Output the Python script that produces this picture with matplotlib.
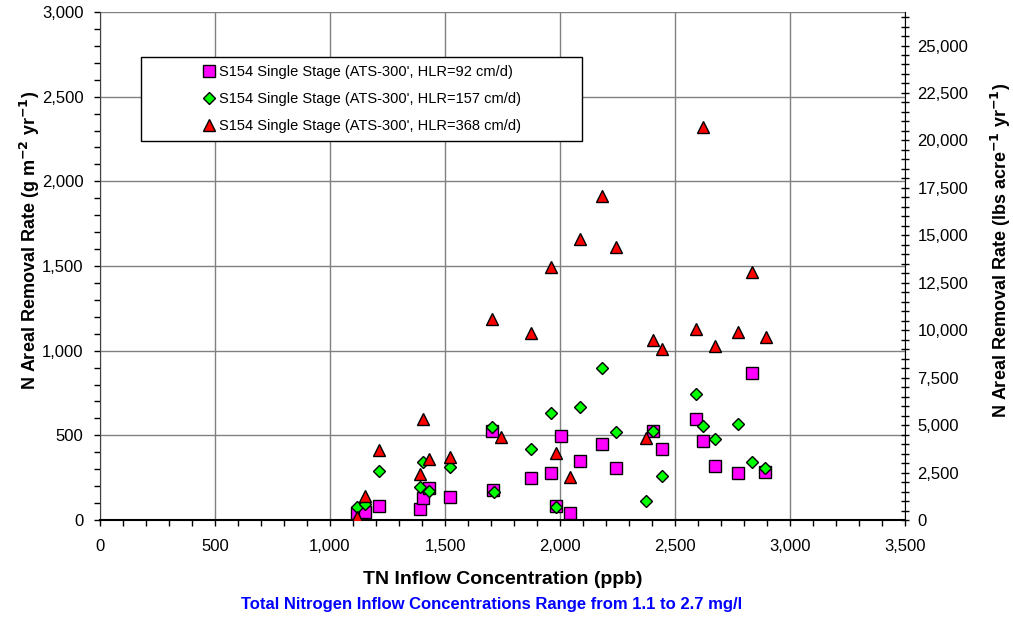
import numpy as np
import matplotlib
matplotlib.use("Agg")
import matplotlib.pyplot as plt
from matplotlib.patches import Rectangle
from matplotlib.ticker import MultipleLocator, FuncFormatter

plt.rcParams['font.family'] = ['Liberation Sans', 'DejaVu Sans']

# HLR = 92 cm/d (squares)
x_92 = [1116, 1152, 1213, 1391, 1403, 1432, 1522, 1703, 1710, 1872, 1961, 1983,
        2003, 2043, 2087, 2181, 2242, 2403, 2442, 2591, 2623, 2672, 2772, 2833, 2893]
y_92 = [40, 49, 83, 65, 128, 187, 138, 526, 177, 250, 276, 83,
        496, 43, 350, 449, 309, 527, 419, 595, 466, 321, 276, 866, 285]

# HLR = 157 cm/d (diamonds)
x_157 = [1116, 1152, 1213, 1391, 1403, 1432, 1522, 1703, 1713, 1872, 1961, 1983,
         2087, 2184, 2243, 2374, 2403, 2442, 2591, 2623, 2672, 2772, 2833, 2893]
y_157 = [75, 94, 291, 197, 341, 173, 315, 551, 167, 419, 630, 79,
         666, 896, 518, 114, 527, 260, 742, 555, 478, 569, 344, 305]

# HLR = 368 cm/d (triangles)
x_368 = [1116, 1152, 1213, 1391, 1403, 1432, 1522, 1703, 1742, 1872, 1962, 1983,
         2043, 2087, 2184, 2242, 2374, 2403, 2442, 2591, 2623, 2672, 2772, 2833, 2894]
y_368 = [16, 142, 413, 272, 596, 358, 370, 1189, 492, 1102, 1496, 394,
         252, 1658, 1913, 1615, 482, 1063, 1008, 1126, 2323, 1028, 1112, 1463, 1079]

labels = ["S154 Single Stage (ATS-300', HLR=92 cm/d)",
          "S154 Single Stage (ATS-300', HLR=157 cm/d)",
          "S154 Single Stage (ATS-300', HLR=368 cm/d)"]

G_TO_LBS = 8.922  # g m-2 yr-1 -> lbs acre-1 yr-1

fig = plt.figure(figsize=(10.13, 6.24), dpi=100)
ax = fig.add_axes([100 / 1013, 1 - 520 / 624, 805 / 1013, 508 / 624])

ax.plot(x_92, y_92, ls='none', marker='s', ms=8.5, mfc='#FF00FF', mec='black',
        mew=1.0, label=labels[0], zorder=3)
ax.plot(x_157, y_157, ls='none', marker='D', ms=6.5, mfc='#00FF00', mec='black',
        mew=1.0, label=labels[1], zorder=4)
ax.plot(x_368, y_368, ls='none', marker='^', ms=9, mfc='#FF0000', mec='black',
        mew=1.0, label=labels[2], zorder=5)

ax.set_xlim(0, 3500)
ax.set_ylim(0, 3000)
ax.xaxis.set_major_locator(MultipleLocator(500))
ax.xaxis.set_minor_locator(MultipleLocator(100))
ax.yaxis.set_major_locator(MultipleLocator(500))
ax.yaxis.set_minor_locator(MultipleLocator(100))
comma = FuncFormatter(lambda v, p: f"{v:,.0f}")
ax.xaxis.set_major_formatter(comma)
ax.yaxis.set_major_formatter(comma)
ax.grid(True, which='major', color='#808080', lw=1.0)
ax.set_axisbelow(True)
ax.tick_params(which='both', direction='out', length=4, width=1, labelsize=12,
               color='black')
ax.tick_params(axis='x', pad=10)
ax.tick_params(axis='y', pad=8)
for s in ['top', 'right']:
    ax.spines[s].set_visible(False)
ax.spines['left'].set_color('#404040')
ax.spines['bottom'].set_color('black')
ax.spines['bottom'].set_linewidth(1.5)

ax.set_xlabel("TN Inflow Concentration (ppb)", fontsize=14, fontweight='bold',
              labelpad=12)
ax.set_ylabel(r"N Areal Removal Rate (g m$^{\mathbf{-2}}$ yr$^{\mathbf{-1}}$)",
              fontsize=13, fontweight='bold')
ax.yaxis.set_label_coords(-58 / 805, (520 - 240) / 508)

ax2 = ax.twinx()
ax2.set_ylim(0, 3000 * G_TO_LBS)
ax2.yaxis.set_major_locator(MultipleLocator(2500))
ax2.yaxis.set_minor_locator(MultipleLocator(500))
ax2.yaxis.set_major_formatter(comma)
ax2.tick_params(which='both', direction='inout', length=6, width=1, labelsize=12,
                pad=6)
for s in ['top', 'left', 'bottom']:
    ax2.spines[s].set_visible(False)
ax2.spines['right'].set_color('black')
ax2.set_ylabel(r"N Areal Removal Rate (lbs acre$^{\mathbf{-1}}$ yr$^{\mathbf{-1}}$)",
               fontsize=13, fontweight='bold')
ax2.yaxis.set_label_coords(1 + 84 / 805, (520 - 250) / 508)

# legend box drawn separately so the entries sit centred in it
box = Rectangle((40.7 / 805, (520 - 140.7) / 508), 441.6 / 805, 84 / 508,
                transform=ax.transAxes, facecolor='white', edgecolor='black',
                lw=1.0, zorder=9, clip_on=False)
ax2.add_patch(box)
leg = ax2.legend(*ax.get_legend_handles_labels(), loc='center',
                 bbox_to_anchor=((40.7 + 220.8) / 805, (520 - 99.3) / 508),
                 frameon=False, fontsize=10.5, handletextpad=0.2,
                 labelspacing=0.88, handlelength=1.0, borderpad=0)
leg.set_zorder(10)

fig.text(492 / 1013, 1 - 604 / 624,
         "Total Nitrogen Inflow Concentrations Range from 1.1 to 2.7 mg/l",
         ha='center', va='center', color='#0000FF', fontsize=12, fontweight='bold')

fig.savefig("out.png", dpi=100)
